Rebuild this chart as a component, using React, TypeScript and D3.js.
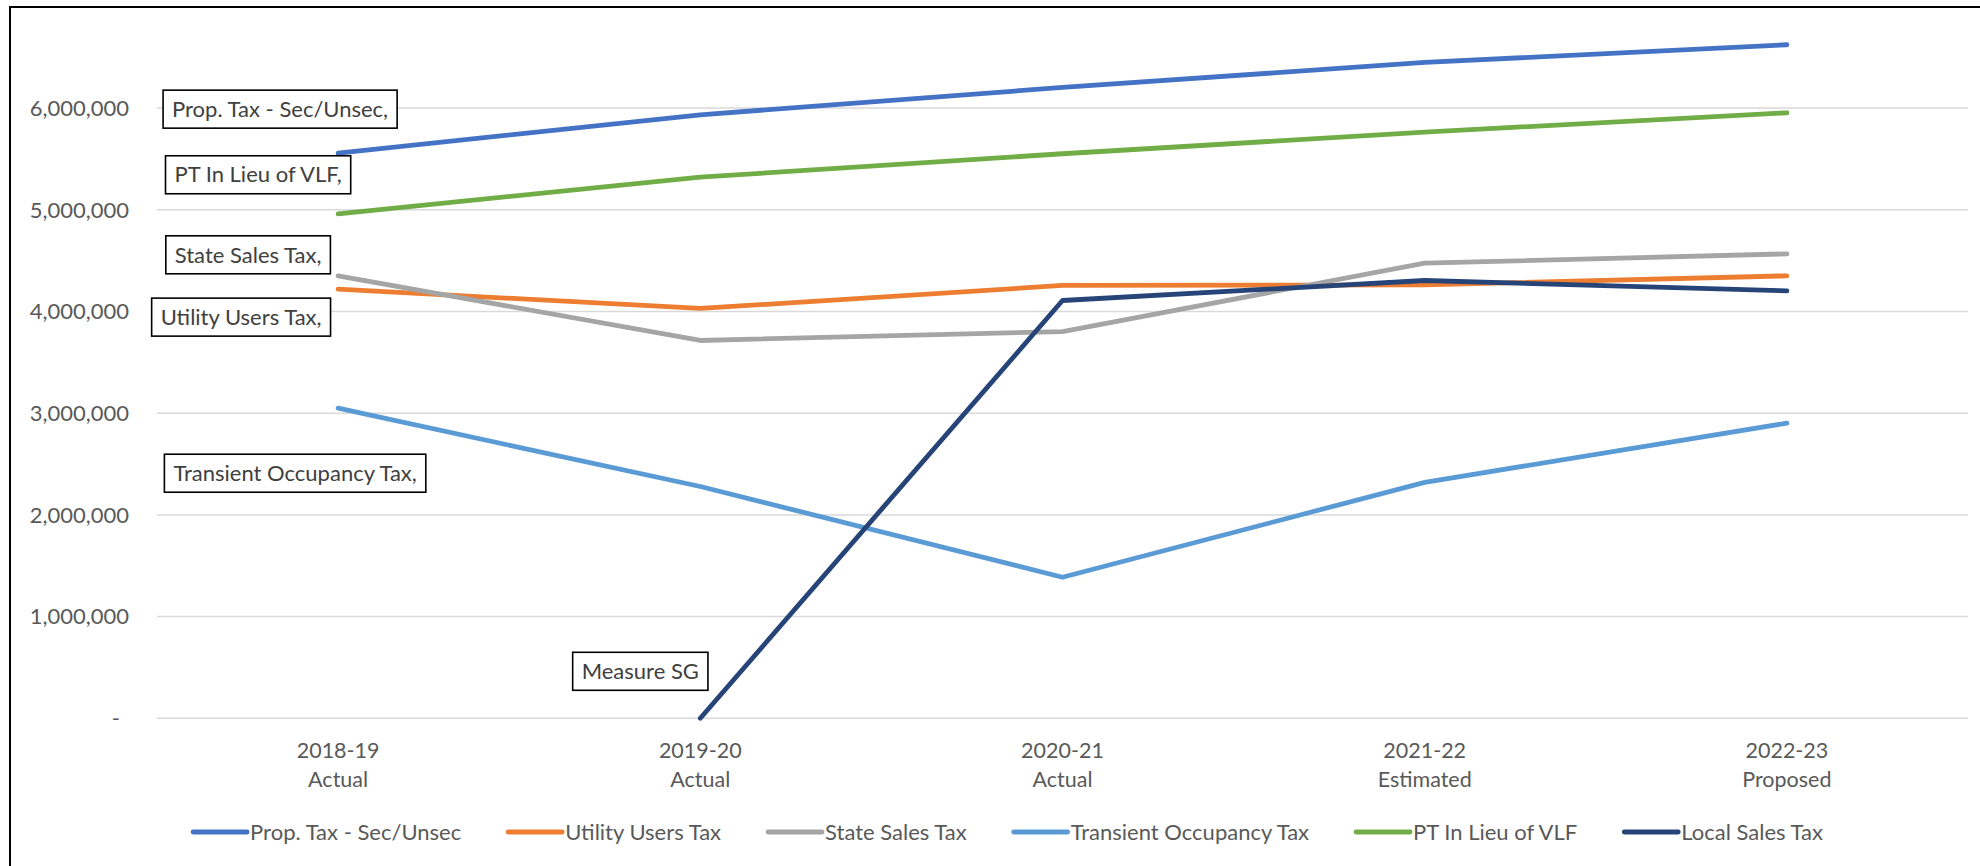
import React, { useEffect, useRef } from "react";
import * as d3 from "d3";

const categories = ["2018-19", "2019-20", "2020-21", "2021-22", "2022-23"];
const categorySub = ["Actual", "Actual", "Actual", "Estimated", "Proposed"];

const propTax = [5557000, 5934000, 6203000, 6449000, 6623000];
const utilityUsersTax = [4220000, 4030000, 4256000, 4262000, 4351000];
const stateSalesTax = [4351000, 3715000, 3803000, 4475000, 4567000];
const transientOccupancyTax = [3049000, 2279000, 1387000, 2320000, 2902000];
const ptInLieuVLF = [4961000, 5321000, 5551000, 5764000, 5954000];
const localSalesTax: (number | null)[] = [null, 0, 4108000, 4305000, 4203000];

const seriesNames = [
  "Prop. Tax - Sec/Unsec",
  "Utility Users Tax",
  "State Sales Tax",
  "Transient Occupancy Tax",
  "PT In Lieu of VLF",
  "Local Sales Tax",
];
const labelTexts = [
  "Prop. Tax - Sec/Unsec,",
  "Utility Users Tax,",
  "State Sales Tax,",
  "Transient Occupancy Tax,",
  "PT In Lieu of VLF,",
  "Measure SG",
];
const seriesColors = ["#4472C4", "#ED7D31", "#A5A5A5", "#5B9BD5", "#70AD47", "#264478"];
const yTicks = [0, 1000000, 2000000, 3000000, 4000000, 5000000, 6000000];

// label box offsets (center) relative to the series' first point
const labelOffsets = [
  [-58, -44],
  [-97, 28],
  [-90, -21],
  [-43, 65],
  [-80, -39],
  [-60, -47],
];

const FONT = "Lato, 'Noto Sans', sans-serif";

export default function App() {
  const ref = useRef<SVGSVGElement>(null);

  useEffect(() => {
    const svg = d3.select(ref.current);
    svg.selectAll("*").remove();
    const W = 1980, H = 866;
    const plotL = 157, plotR = 1968, plotB = 718.3, plotT = 6.4;

    const allSeries = [propTax, utilityUsersTax, stateSalesTax, transientOccupancyTax, ptInLieuVLF, localSalesTax];

    const x = d3.scaleBand<string>().domain(categories).range([plotL, plotR]);
    const cx = (i: number) => (x(categories[i]) as number) + x.bandwidth() / 2;
    const y = d3.scaleLinear().domain([0, 7000000]).range([plotB, plotT]);

    svg.append("rect").attr("width", W).attr("height", H).attr("fill", "#fff");

    // gridlines
    svg.append("g").selectAll("line").data(yTicks).join("line")
      .attr("x1", plotL).attr("x2", plotR)
      .attr("y1", (d) => y(d)).attr("y2", (d) => y(d))
      .attr("stroke", "#D9D9D9").attr("stroke-width", 1.5);

    // y tick labels
    const fmt = d3.format(",");
    svg.append("g").selectAll("text").data(yTicks).join("text")
      .attr("x", (d) => (d === 0 ? 120 : 129))
      .attr("y", (d) => y(d))
      .attr("dy", "0.35em")
      .attr("text-anchor", "end")
      .attr("font-family", FONT).attr("font-size", 22).attr("fill", "#595959")
      .text((d) => (d === 0 ? "-" : fmt(d)));

    // x labels
    const xl = svg.append("g");
    categories.forEach((c, i) => {
      xl.append("text").attr("x", cx(i)).attr("y", 750).attr("dy", "0.35em")
        .attr("text-anchor", "middle").attr("font-family", FONT).attr("font-size", 21.5)
        .attr("fill", "#595959").text(c);
      xl.append("text").attr("x", cx(i)).attr("y", 779).attr("dy", "0.35em")
        .attr("text-anchor", "middle").attr("font-family", FONT).attr("font-size", 21.5)
        .attr("fill", "#595959").text(categorySub[i]);
    });

    // lines
    const line = d3.line<number | null>()
      .defined((d) => d !== null)
      .x((_, i) => cx(i))
      .y((d) => y(d as number));
    allSeries.forEach((s, k) => {
      svg.append("path").attr("d", line(s as (number | null)[]) as string)
        .attr("fill", "none").attr("stroke", seriesColors[k]).attr("stroke-width", 4.8)
        .attr("stroke-linecap", "round").attr("stroke-linejoin", "round");
    });

    // data labels
    allSeries.forEach((s, k) => {
      const i0 = (s as (number | null)[]).findIndex((v) => v !== null);
      const px = cx(i0), py = y(s[i0] as number);
      const lx = px + labelOffsets[k][0], ly = py + labelOffsets[k][1];
      const g = svg.append("g");
      const rect = g.append("rect").attr("fill", "#fff").attr("stroke", "#000").attr("stroke-width", 1.6);
      const t = g.append("text").attr("x", lx).attr("y", ly).attr("dy", "0.35em")
        .attr("text-anchor", "middle").attr("font-family", FONT).attr("font-size", 22)
        .attr("fill", "#404040").text(labelTexts[k]);
      const w = (t.node() as SVGTextElement).getComputedTextLength() + 18;
      const h = 38;
      rect.attr("x", lx - w / 2).attr("y", ly - h / 2).attr("width", w).attr("height", h);
    });

    // legend
    const lg = svg.append("g");
    const lineLen = 54, gapText = 3, gapItem = 47, legY = 832;
    const items: { w: number; g: any }[] = [];
    seriesNames.forEach((name, k) => {
      const g = lg.append("g");
      g.append("line").attr("x1", 0).attr("x2", lineLen).attr("y1", legY).attr("y2", legY)
        .attr("stroke", seriesColors[k]).attr("stroke-width", 4.8).attr("stroke-linecap", "round");
      const t = g.append("text").attr("x", lineLen + gapText).attr("y", legY).attr("dy", "0.35em")
        .attr("font-family", FONT).attr("font-size", 22).attr("fill", "#595959").text(name);
      const tw = (t.node() as SVGTextElement).getComputedTextLength();
      items.push({ w: lineLen + gapText + tw, g });
    });
    const total = items.reduce((a, b) => a + b.w, 0) + gapItem * (items.length - 1);
    let start = 1008 - total / 2;
    items.forEach((it) => {
      it.g.attr("transform", `translate(${start},0)`);
      start += it.w + gapItem;
    });

    // outer chart border (extends beyond view)
    svg.append("rect").attr("x", 10).attr("y", 7).attr("width", 2000).attr("height", 900)
      .attr("fill", "none").attr("stroke", "#000").attr("stroke-width", 2);
  }, []);

  return (
    <svg
      ref={ref}
      width={1980}
      height={866}
      style={{ position: "fixed", left: 0, top: 0, display: "block" }}
    />
  );
}
